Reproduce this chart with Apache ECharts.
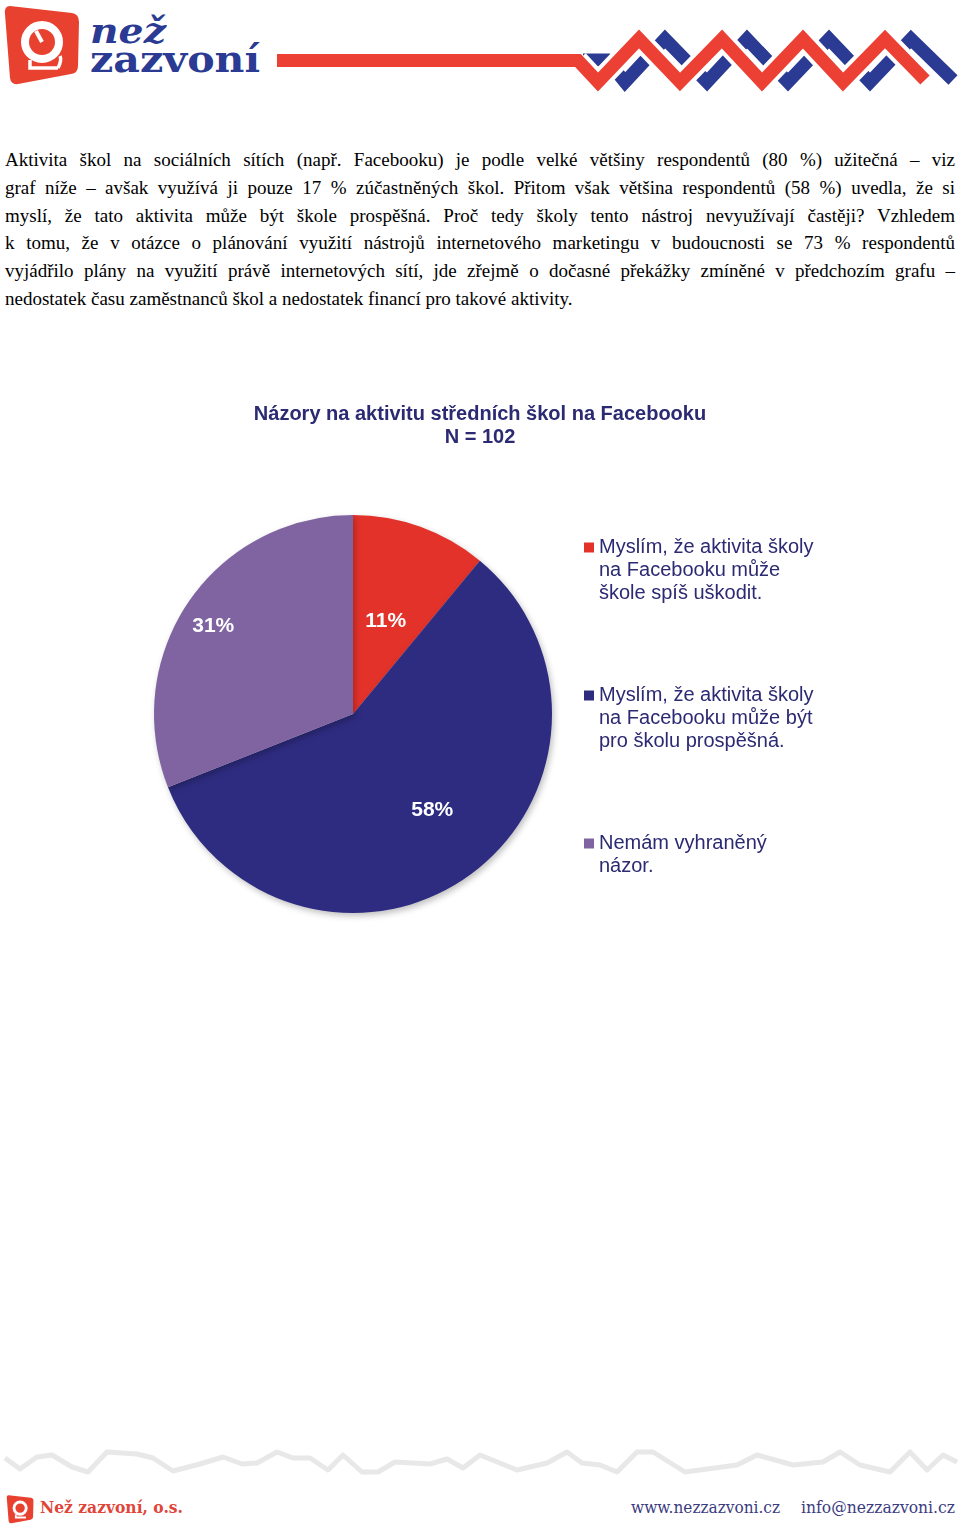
<!DOCTYPE html>
<html>
<head>
<meta charset="utf-8">
<script src="https://cdn.jsdelivr.net/npm/echarts@6/dist/echarts.min.js"></script>
<style>
  html, body { margin: 0; padding: 0; background: #fff; }
  #page { position: relative; width: 960px; height: 1524px; overflow: hidden; background: #fff; }
  #para { position: absolute; left: 5px; top: 146px; width: 950px; font-family: "Liberation Serif", "Times New Roman", serif;
          font-size: 19px; line-height: 27.8px; color: #000; }
  #para div { text-align: justify; text-align-last: justify; white-space: nowrap; }
  #para div.last { text-align-last: left; }
  #chart { position: absolute; left: 0; top: 380px; width: 960px; height: 560px; }
  svg { position: absolute; left: 0; }
</style>
</head>
<body>
<div id="page">
  <svg id="header" width="960" height="100" style="top:0">
    <path d="M10,6 L72,13 Q79,14 79,22 L78,66 Q78,73 71,74 L18,84 Q11,85 10,78 L5,14 Q4,6 10,6 Z" fill="#E8412F"/>
    <circle cx="42" cy="42" r="17" fill="#E8412F" stroke="#fff" stroke-width="8"/>
    <path d="M42,42 L36,31" stroke="#fff" stroke-width="4"/>
    <path d="M30,60 L30,68 L58,68 M58,68 Q62,60 60,56" fill="none" stroke="#fff" stroke-width="3.5"/>
    <text x="90" y="43" font-family="DejaVu Serif" font-weight="bold" font-style="italic" font-size="36" fill="#2B3A92" textLength="76" lengthAdjust="spacingAndGlyphs">než</text>
    <text x="90" y="72" font-family="DejaVu Serif" font-weight="bold" font-size="38" fill="#2B3A92" textLength="170" lengthAdjust="spacingAndGlyphs">zazvoní</text>
    <polyline points="583,60 607,60 625,82 665,39 707,82 747,39 788,82 829,39 870,82 911,39 953,80" fill="none" stroke="#2B3A92" stroke-width="13" stroke-linejoin="miter"/>
    <polyline points="578,60.5 598,82 639,39 680,82 722,39 762,82 803,39 843,82 885,39 925,80" fill="none" stroke="#fff" stroke-width="21" stroke-linejoin="miter"/>
    <polyline points="277,60.5 578,60.5 598,82 639,39 680,82 722,39 762,82 803,39 843,82 885,39 925,80" fill="none" stroke="#EC4035" stroke-width="13" stroke-linejoin="miter"/>
  </svg>

  <div id="para">
    <div>Aktivita škol na sociálních sítích (např. Facebooku) je podle velké většiny respondentů (80 %) užitečná – viz</div>
    <div>graf níže – avšak využívá ji pouze 17 % zúčastněných škol. Přitom však většina respondentů (58 %) uvedla, že si</div>
    <div>myslí, že tato aktivita může být škole prospěšná. Proč tedy školy tento nástroj nevyužívají častěji? Vzhledem</div>
    <div>k tomu, že v otázce o plánování využití nástrojů internetového marketingu v budoucnosti se 73 % respondentů</div>
    <div>vyjádřilo plány na využití právě internetových sítí, jde zřejmě o dočasné překážky zmíněné v předchozím grafu –</div>
    <div class="last">nedostatek času zaměstnanců škol a nedostatek financí pro takové aktivity.</div>
  </div>

  <div id="chart"></div>

  <svg id="footer" width="960" height="90" style="top:1440px">
    <polyline points="5,18 20,29 37,17 52,15 72,27 88,32 107,12 137,14 153,18 173,31 200,24 223,17 242,24 257,23 277,12 293,18 310,18 328,30 343,15 362,32 378,32 395,22 430,24 447,19 463,28 480,15 517,30 547,23 567,12 582,23 600,25 617,32 637,12 653,12 685,32 737,25 757,15 793,25 823,22 840,12 860,25 890,32 910,12 927,30 943,15 957,22" fill="none" stroke="#E8E8E8" stroke-width="5" stroke-linejoin="round"/>
    <g transform="translate(5,53) scale(0.36)">
      <path d="M10,6 L72,13 Q79,14 79,22 L78,66 Q78,73 71,74 L18,84 Q11,85 10,78 L5,14 Q4,6 10,6 Z" fill="#E8412F"/>
      <circle cx="42" cy="42" r="17" fill="#E8412F" stroke="#fff" stroke-width="8"/>
      <path d="M30,60 L30,68 L58,68" fill="none" stroke="#fff" stroke-width="5"/>
    </g>
    <text x="40" y="73" font-family="DejaVu Serif" font-weight="bold" font-size="16" fill="#E0453A" textLength="143" lengthAdjust="spacingAndGlyphs">Než zazvoní, o.s.</text>
    <text x="631" y="73" font-family="DejaVu Serif" font-size="16" fill="#3B3B80" textLength="149" lengthAdjust="spacingAndGlyphs">www.nezzazvoni.cz</text>
    <text x="801" y="73" font-family="DejaVu Serif" font-size="16" fill="#3B3B80" textLength="154" lengthAdjust="spacingAndGlyphs">info@nezzazvoni.cz</text>
  </svg>
</div>

<script>
// ---- data ----
const chartTitle = 'Názory na aktivitu středních škol na Facebooku';
const chartSubtitle = 'N = 102';
const categories = [
  'Myslím, že aktivita školy\nna Facebooku může\nškole spíš uškodit.',
  'Myslím, že aktivita školy\nna Facebooku může být\npro školu prospěšná.',
  'Nemám vyhraněný\nnázor.'
];
const values = [11, 58, 31];

// ---- styling ----
const sliceColors = ['#E3322A', '#2E2C80', '#8064A2'];
const navyText = '#2B2A72';
const labelShift = [[-2, 4], [19, 13], [-55, -30]];
const titleFont = { fontFamily: 'Liberation Sans', fontWeight: 'bold', fontSize: 20, lineHeight: 23, color: navyText };

// pad each legend entry so that its first line sits in the middle (beside the marker)
function legendText(name) {
  const n = name.split('\n').length;
  return '\n\n' + name + '\n'.repeat(Math.max(0, 3 - n));
}

const chart = echarts.init(document.getElementById('chart'), null, { renderer: 'canvas' });
chart.setOption({
  animation: false,
  color: sliceColors,
  title: [
    { text: chartTitle, left: 'center', top: 23, padding: 0, textStyle: titleFont },
    { text: chartSubtitle, left: 'center', top: 46, padding: 0, textStyle: titleFont }
  ],
  legend: {
    orient: 'vertical',
    left: 584,
    top: 110,
    padding: 0,
    itemGap: 33,
    icon: 'rect',
    itemWidth: 10,
    itemHeight: 10,
    selectedMode: false,
    data: categories,
    formatter: legendText,
    textStyle: { fontFamily: 'Liberation Sans', fontSize: 20, lineHeight: 23, color: navyText }
  },
  series: [{
    type: 'pie',
    center: [353, 334],
    radius: 199,
    startAngle: 90,
    clockwise: true,
    silent: true,
    itemStyle: { shadowBlur: 6, shadowColor: 'rgba(0,0,0,0.25)', shadowOffsetX: 2, shadowOffsetY: 3 },
    label: {
      show: true,
      position: 'inside',
      formatter: p => Math.round(p.percent) + '%',
      fontFamily: 'Liberation Sans',
      fontWeight: 'bold',
      fontSize: 21,
      color: '#fff'
    },
    labelLine: { show: false },
    labelLayout: p => ({ dx: labelShift[p.dataIndex][0], dy: labelShift[p.dataIndex][1] }),
    emphasis: { disabled: true },
    data: categories.map((c, i) => ({ name: c, value: values[i] }))
  }]
});
</script>
</body>
</html>
